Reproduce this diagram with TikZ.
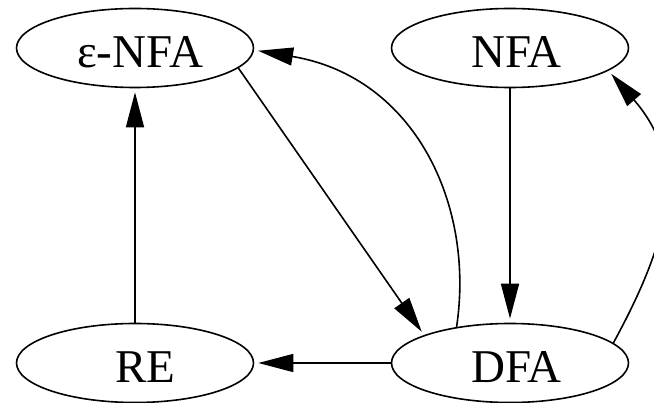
\documentclass[tikz,border=0pt]{standalone}
\usepackage{fontspec}
\setmainfont{Liberation Serif}
\usetikzlibrary{shapes.geometric,arrows.meta}
\begin{document}
\begin{tikzpicture}[x=1pt,y=-1pt,
  state/.style={ellipse,draw,line width=1.6pt,minimum width=237pt,minimum height=79pt,
    inner sep=0pt,font=\fontsize{47}{50}\selectfont,text height=40pt,text depth=0pt},
  edge/.style={line width=1.6pt,-{Triangle[length=35pt,width=18pt]},shorten >=4pt}]
\useasboundingbox (0,0) rectangle (654,403);
\node[state] (enfa) at (135,48) {\hspace*{10pt}ε-NFA};
\node[state] (nfa) at (510,48) {\hspace*{13pt}NFA};
\node[state] (re) at (135,363) {\hspace*{21pt}RE};
\node[state] (dfa) at (510,363) {\hspace*{13pt}DFA};
\draw[edge] (re) -- (enfa);
\draw[edge] (enfa.-11) -- (dfa.162);
\draw[edge] (nfa) -- (dfa);
\draw[edge] (dfa) -- (re);
\draw[edge] (dfa.146) .. controls (475,205) and (415,77) .. (enfa.-1);
\draw[edge] (dfa.11) .. controls (670,239) and (689,163) .. (nfa.-13);
\end{tikzpicture}
\end{document}
